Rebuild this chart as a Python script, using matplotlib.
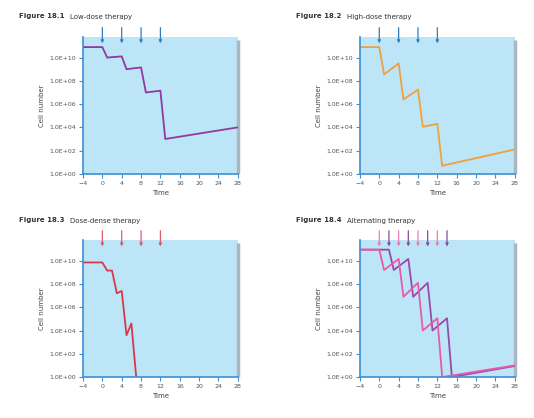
import numpy as np
import matplotlib
matplotlib.use("Agg")
import matplotlib.pyplot as plt

# data (log10 of cell number)
low_t = [-4, 0, 1, 4, 5, 8, 9, 12, 13, 28]
low_v = [10.9, 10.9, 10.0, 10.1, 9.0, 9.15, 7.0, 7.15, 3.0, 4.0]

high_t = [-4, 0, 1, 4, 5, 8, 9, 12, 13, 28]
high_v = [10.9, 10.9, 8.55, 9.5, 6.4, 7.25, 4.05, 4.3, 0.7, 2.1]

dense_t = [-4, 0, 1, 2, 3, 4, 5, 6, 7]
dense_v = [9.85, 9.85, 9.15, 9.15, 7.2, 7.4, 3.6, 4.6, 0.0]

alt_a_t = [-4, 0, 1, 4, 5, 8, 9, 12, 13, 28]
alt_a_v = [10.95, 10.95, 9.2, 10.15, 6.9, 8.1, 4.0, 5.05, 0.0, 1.0]
alt_b_t = [-4, 2, 3, 6, 7, 10, 11, 14, 15, 28]
alt_b_v = [10.95, 10.95, 9.2, 10.15, 6.9, 8.1, 4.0, 5.05, 0.0, 0.95]

doses = [0, 4, 8, 12]
doses_b = [2, 6, 10, 14]

xticks = [-4, 0, 4, 8, 12, 16, 20, 24, 28]
yticks = [0, 2, 4, 6, 8, 10]

bg = '#bde5f8'
spine = '#3d8fd1'

fig = plt.figure(figsize=(5.34, 4.18), dpi=100)

def panel(rect, num, name):
    ax = fig.add_axes(rect)
    ax.set_facecolor(bg)
    ax.set_yscale('log')
    ax.set_xlim(-4, 28)
    ax.set_ylim(1, 10 ** 11.75)
    ax.set_xticks(xticks)
    ax.set_xticklabels(['\u22124' if x < 0 else str(x) for x in xticks])
    ax.set_yticks([10.0 ** p for p in yticks])
    ax.set_yticklabels(['1.0E+%02d' % p for p in yticks])
    ax.minorticks_off()
    ax.tick_params(labelsize=4.5, colors='#555555', length=3, width=0.8, pad=2)
    ax.tick_params(axis='both', color=spine)
    for s in ['top', 'right']:
        ax.spines[s].set_visible(False)
    for s in ['left', 'bottom']:
        ax.spines[s].set_color(spine)
        ax.spines[s].set_linewidth(1.2)
    ax.set_xlabel('Time', fontsize=5, color='#444444', labelpad=3)
    ax.set_ylabel('Cell number', fontsize=5, color='#444444', labelpad=3)
    # grey shadow on the right edge
    ax.plot([1.0, 1.0], [0, 0.98], transform=ax.transAxes, color='#a9b8c0',
            lw=2.5, clip_on=False, solid_capstyle='butt')
    # title: bold figure number, then the name
    x0 = rect[0] - 0.12
    y0 = rect[1] + rect[3] + 0.045
    t1 = fig.text(x0, y0, 'Figure ' + num, fontsize=5, fontweight='bold', color='#333333')
    ax.annotate(name, xy=(1, 0), xycoords=t1, xytext=(4, 0),
                textcoords='offset points', fontsize=5, color='#333333',
                annotation_clip=False)
    return ax

def arrows(ax, xs, color):
    for x in xs:
        ax.annotate('', xy=(x, 0.955), xycoords=('data', 'axes fraction'),
                    xytext=(x, 1.07), textcoords=('data', 'axes fraction'),
                    annotation_clip=False,
                    arrowprops=dict(arrowstyle='-|>', color=color, lw=0.9,
                                    mutation_scale=4, shrinkA=0, shrinkB=0))

w, h = 0.290, 0.327
ax1 = panel([0.1554, 0.584, w, h], '18.1', 'Low-dose therapy')
ax1.plot(low_t, 10.0 ** np.array(low_v), color='#8e3a9e', lw=1.3)
arrows(ax1, doses, '#2f7fc0')

ax2 = panel([0.674, 0.584, w, h], '18.2', 'High-dose therapy')
ax2.plot(high_t, 10.0 ** np.array(high_v), color='#f0a03c', lw=1.3)
arrows(ax2, doses, '#2f7fc0')

ax3 = panel([0.1554, 0.098, w, h], '18.3', 'Dose-dense therapy')
ax3.plot(dense_t, 10.0 ** np.array(dense_v), color='#d8394a', lw=1.3)
arrows(ax3, doses, '#e05a6a')

ax4 = panel([0.674, 0.098, w, h], '18.4', 'Alternating therapy')
ax4.plot(alt_b_t, 10.0 ** np.array(alt_b_v), color='#9a4aa8', lw=1.3)
ax4.plot(alt_a_t, 10.0 ** np.array(alt_a_v), color='#e85aa8', lw=1.3)
arrows(ax4, doses, '#f07ab8')
arrows(ax4, doses_b, '#8a4aa0')

fig.savefig('out.png', dpi=100)
